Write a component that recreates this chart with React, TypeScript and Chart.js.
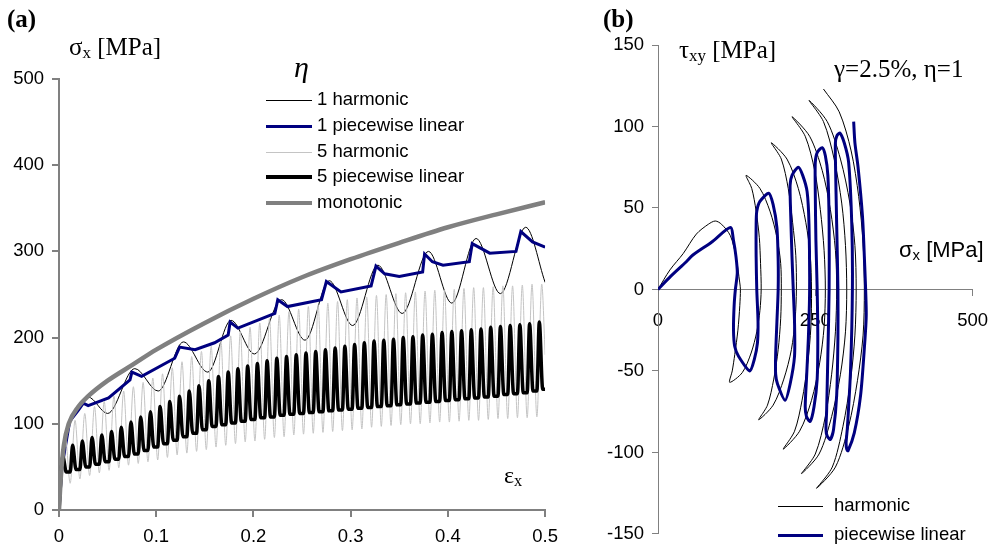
import React, { useEffect, useRef } from "react";
import { Chart, registerables } from "chart.js";
Chart.register(...registerables);

// ---------- (a) sigma_x vs eps_x ----------
const xTicksA = [0, 0.1, 0.2, 0.3, 0.4, 0.5];
const xLabelsA = ["0", "0.1", "0.2", "0.3", "0.4", "0.5"];
const yTicksA = [0, 100, 200, 300, 400, 500];
const yLabelsA = ["0", "100", "200", "300", "400", "500"];

const monoEps = [0, 0.002, 0.005, 0.01, 0.02, 0.03, 0.05, 0.075, 0.1, 0.15, 0.2, 0.25, 0.3, 0.35, 0.4, 0.45, 0.5];
const monoSig = [0, 40, 75, 100, 120, 132, 150, 168, 186, 217, 245, 270, 291, 310, 328, 343, 357];

const h1Eps = [0, 0.004, 0.01, 0.02, 0.03, 0.05, 0.078, 0.102, 0.128, 0.153, 0.177, 0.201, 0.229, 0.253, 0.278, 0.302, 0.328, 0.353, 0.38, 0.404, 0.429, 0.454, 0.48, 0.5];
const h1Sig = [0, 60, 98, 120, 131, 112, 164, 138, 195, 160, 220, 181, 244, 197, 266, 214, 284, 228, 300, 240, 315, 251, 328, 264];

const p1Eps = [0, 0.003, 0.011, 0.02, 0.025, 0.03, 0.051, 0.073, 0.075, 0.085, 0.119, 0.124, 0.14, 0.16, 0.174, 0.176, 0.184, 0.222, 0.225, 0.235, 0.27, 0.275, 0.29, 0.321, 0.326, 0.335, 0.35, 0.374, 0.376, 0.384, 0.395, 0.422, 0.425, 0.443, 0.47, 0.475, 0.487, 0.5];
const p1Sig = [0, 50, 103, 116, 124, 121, 130, 151, 160, 155, 176, 189, 186, 194, 203, 218, 211, 228, 244, 236, 244, 265, 253, 260, 283, 274, 271, 276, 297, 288, 284, 288, 309, 298, 300, 323, 311, 305];

// start of each of the 50 cycles of the eta=5 histories
const cycleEps = [0, 0.01, 0.02, 0.03, 0.04, 0.05, 0.06, 0.07, 0.08, 0.09, 0.1, 0.11, 0.12, 0.13, 0.14, 0.15, 0.16, 0.17, 0.18, 0.19, 0.2, 0.21, 0.22, 0.23, 0.24, 0.25, 0.26, 0.27, 0.28, 0.29, 0.3, 0.31, 0.32, 0.33, 0.34, 0.35, 0.36, 0.37, 0.38, 0.39, 0.4, 0.41, 0.42, 0.43, 0.44, 0.45, 0.46, 0.47, 0.48, 0.49];

const h5Peak = [85, 104, 112, 120, 126, 132, 138, 143, 148, 153, 158, 165, 172, 178, 184, 190, 196, 202, 207, 212, 217, 222, 226, 230, 233, 236, 238, 240, 242, 244, 246, 247, 249, 250, 251, 252, 253, 254, 255, 255, 256, 257, 258, 258, 259, 260, 260, 261, 262, 262];
const h5Trough = [31, 36, 40, 43, 46, 49, 52, 54, 56, 58, 61, 64, 66, 68, 70, 73, 75, 77, 79, 80, 82, 84, 85, 87, 88, 89, 90, 91, 92, 93, 94, 96, 97, 98, 99, 100, 100, 101, 102, 102, 103, 104, 104, 105, 106, 106, 107, 107, 108, 180];

const p5Peak = [62, 75, 80, 84, 87, 91, 96, 102, 108, 114, 120, 126, 132, 138, 144, 150, 155, 160, 164, 167, 170, 173, 176, 178, 180, 182, 184, 186, 188, 190, 192, 194, 196, 197, 198, 200, 201, 203, 204, 206, 207, 208, 209, 210, 212, 213, 214, 215, 216, 218];
const p5Trough = [44, 47, 50, 53, 56, 59, 62, 65, 69, 73, 77, 81, 85, 89, 93, 97, 99, 101, 103, 105, 107, 108, 110, 111, 112, 113, 114, 115, 116, 117, 118, 119, 120, 121, 122, 123, 124, 125, 126, 127, 128, 129, 130, 131, 132, 134, 135, 136, 138, 140];

// ---------- (b) tau_xy vs sigma_x ----------
const xTicksB = [0, 250, 500];
const xLabelsB = ["0", "250", "500"];
const yTicksB = [-150, -100, -50, 0, 50, 100, 150];
const yLabelsB = ["-150", "-100", "-50", "0", "50", "100", "150"];

const hbSig = [0, 19, 40, 61, 80, 91, 101, 115, 124, 130, 131,
  130, 127, 122, 118, 114,
  134, 148, 157, 162, 164,
  163, 161, 156, 149, 140,
  162, 178, 189, 195, 196,
  195, 191, 184, 174, 160,
  183, 200, 212, 218, 220,
  219, 214, 207, 196, 180,
  205, 223, 235, 242, 244,
  243, 238, 229, 217, 199,
  225, 244, 257, 264, 266,
  264, 258, 249, 234, 213,
  241, 261, 274, 282, 284,
  282, 276, 266, 250, 228,
  256, 276, 290, 298, 300,
  298, 292, 280, 263, 240,
  269, 290, 305, 313, 315,
  313, 306, 294, 277, 252,
  282, 303, 317, 326, 328,
  326, 319, 307, 288, 263];
const hbTau = [0, 12, 22, 34, 40, 42, 40, 33, 20, 4, 0,
  -10, -25, -40, -50, -57,
  -51, -39, -26, -13, 0,
  16, 32, 48, 62, 70,
  62, 48, 32, 16, 0,
  -18, -37, -55, -71, -80,
  -71, -55, -37, -18, 0,
  21, 41, 62, 80, 90,
  80, 62, 41, 21, 0,
  -23, -45, -68, -87, -98,
  -87, -68, -45, -23, 0,
  24, 49, 73, 94, 106,
  94, 73, 49, 24, 0,
  -26, -52, -78, -101, -113,
  -101, -78, -52, -26, 0,
  27, 53, 80, 103, 116,
  103, 80, 53, 27, 0,
  -28, -56, -84, -109, -122,
  -109, -84, -56, -28, 0,
  28, 57, 85, 109, 123];

const pbSig = [0, 20, 45, 55, 85, 115,
  120, 124, 126, 123, 121, 120, 122, 128, 146,
  153, 158, 159, 157, 156, 156, 157, 162, 176,
  183, 189, 191, 191, 189, 187, 187, 190, 202,
  210, 217, 217, 215, 213, 211, 210, 213, 223,
  230, 237, 240, 241, 239, 236, 234, 236, 242,
  248, 253, 254, 253, 251, 250, 250, 253, 261,
  266, 270, 272, 272, 270, 268, 267, 269, 274,
  279, 284, 286, 286, 284, 282, 282, 284, 289,
  296, 303, 308, 309, 306, 301, 299, 300, 302,
  312, 322, 328, 331, 328, 325, 318, 313, 311];
const pbTau = [0, 8, 17, 21, 29, 38,
  30, 20, 10, 0, -10, -25, -35, -41, -50,
  -43, -33, -20, 0, 20, 40, 48, 54, 59,
  52, 38, 18, 0, -20, -40, -52, -58, -68,
  -58, -41, -20, 0, 20, 45, 64, 70, 75,
  70, 60, 40, 0, -30, -55, -72, -78, -81,
  -72, -55, -30, 0, 30, 60, 78, 84, 87,
  82, 70, 40, 0, -40, -75, -86, -90, -92,
  -86, -65, -30, 0, 40, 80, 90, 94, 96,
  90, 78, 40, 0, -50, -85, -94, -98, -99,
  -88, -65, -36, -15, 20, 45, 75, 90, 103];

const pts = (xs: number[], ys: number[]) => xs.map((x, i) => ({ x, y: ys[i] }));

function buildH5() {
  const out = [{ x: 0, y: 0 }];
  cycleEps.forEach((c, k) => {
    out.push({ x: c + 0.0065, y: h5Peak[k] });
    out.push({ x: Math.min(c + 0.0115, 0.5), y: h5Trough[k] });
  });
  return out;
}
function buildP5() {
  // sharp rise to the peak, quick fall to the trough, trough held until the next rise
  const out = [{ x: 0, y: 0 }];
  cycleEps.forEach((c, k) => {
    out.push({ x: c + 0.004, y: p5Peak[k] });
    out.push({ x: c + 0.0075, y: p5Trough[k] });
    out.push({ x: Math.min(c + 0.0115, 0.5), y: p5Trough[k] });
  });
  return out;
}

const FONT = "'Liberation Sans', Arial, sans-serif";
const SERIF = "'Liberation Serif', 'Times New Roman', serif";

function axisCommon(ticks: number[], labels: string[], tickLen: number, lw: number) {
  return {
    type: "linear" as const,
    afterBuildTicks: (s: any) => { s.ticks = ticks.map((v) => ({ value: v })); },
    ticks: {
      autoSkip: false, maxRotation: 0,
      color: "#000",
      font: { family: FONT, size: 18.5 },
      callback: (_v: any, i: number) => labels[i],
    },
    grid: { drawOnChartArea: false, drawTicks: true, tickLength: tickLen, color: "#808080", lineWidth: lw },
    border: { display: true, color: "#808080", width: lw },
  };
}

export default function App() {
  const refA = useRef<HTMLCanvasElement>(null);
  const refB = useRef<HTMLCanvasElement>(null);

  useEffect(() => {
    const line = { showLine: true, pointRadius: 0, fill: false };
    const xA: any = axisCommon(xTicksA, xLabelsA, 7, 2);
    xA.min = 0; xA.max = 0.5; xA.ticks.padding = 9;
    xA.afterFit = (s: any) => { s.height = 43; };
    const yA: any = axisCommon(yTicksA, yLabelsA, 7, 2);
    yA.min = 0; yA.max = 500; yA.ticks.padding = 8;
    yA.afterFit = (s: any) => { s.width = 59; };

    const chartA = new Chart(refA.current!, {
      type: "line",
      data: {
        datasets: [
          { ...line, label: "1 harmonic", data: pts(h1Eps, h1Sig), borderColor: "#000", borderWidth: 1, cubicInterpolationMode: "monotone", order: 4 },
          { ...line, label: "1 piecewise linear", data: pts(p1Eps, p1Sig), borderColor: "#000080", borderWidth: 3, tension: 0, order: 3 },
          { ...line, label: "5 harmonic", data: buildH5(), borderColor: "#c4c4c4", borderWidth: 1, cubicInterpolationMode: "monotone", order: 2 },
          { ...line, label: "5 piecewise linear", data: buildP5(), borderColor: "#000", borderWidth: 3.5, cubicInterpolationMode: "monotone", order: 1 },
          { ...line, label: "monotonic", data: pts(monoEps, monoSig), borderColor: "#808080", borderWidth: 4.5, cubicInterpolationMode: "monotone", order: 0 },
        ] as any,
      },
      options: {
        animation: false, responsive: false,
        layout: { padding: { left: 0, top: 79, right: 0, bottom: 0 } },
        plugins: { legend: { display: false }, tooltip: { enabled: false } },
        scales: { x: xA, y: yA },
      },
    });

    const xB: any = axisCommon(xTicksB, xLabelsB, 6, 1);
    xB.min = 0; xB.max = 500; xB.position = { y: 0 }; xB.ticks.padding = 14;
    const yB: any = axisCommon(yTicksB, yLabelsB, 6, 1);
    yB.min = -150; yB.max = 150; yB.ticks.padding = 8;
    yB.afterFit = (s: any) => { s.width = 98; };

    const chartB = new Chart(refB.current!, {
      type: "line",
      data: {
        datasets: [
          { ...line, label: "harmonic", data: pts(hbSig, hbTau), borderColor: "#000", borderWidth: 1, tension: 0.3, order: 1 },
          { ...line, label: "piecewise linear", data: pts(pbSig, pbTau), borderColor: "#000080", borderWidth: 3, tension: 0.25, order: 0 },
        ] as any,
      },
      options: {
        animation: false, responsive: false,
        layout: { padding: { left: 0, top: 45, right: 0, bottom: 13 } },
        plugins: { legend: { display: false }, tooltip: { enabled: false } },
        scales: { x: xB, y: yB },
      },
    });

    return () => { chartA.destroy(); chartB.destroy(); };
  }, []);

  const txt = (left: number, top: number, fs: number, content: React.ReactNode, extra: React.CSSProperties = {}) => (
    <div style={{ position: "absolute", left, top, fontSize: fs, lineHeight: `${fs}px`, whiteSpace: "nowrap", color: "#000", ...extra }}>{content}</div>
  );
  const sub = (s: string) => <span style={{ fontSize: "68%", verticalAlign: "-0.2em" }}>{s}</span>;
  const legLine = (left: number, width: number, cy: number, h: number, color: string) => (
    <div style={{ position: "absolute", left, top: cy - h / 2, width, height: h, background: color }} />
  );

  const legA = [
    { t: "1 harmonic", c: "#000", h: 1, y: 100 },
    { t: "1 piecewise linear", c: "#000080", h: 3, y: 126 },
    { t: "5 harmonic", c: "#c4c4c4", h: 1, y: 152 },
    { t: "5 piecewise linear", c: "#000", h: 4, y: 177 },
    { t: "monotonic", c: "#808080", h: 4.5, y: 203 },
  ];
  const legB = [
    { t: "harmonic", c: "#000", h: 1, y: 506 },
    { t: "piecewise linear", c: "#000080", h: 3, y: 535 },
  ];

  return (
    <div style={{ position: "fixed", left: 0, top: 0, width: 993, height: 553, background: "#fff", overflow: "hidden" }}>
      <canvas ref={refA} width={567} height={553} style={{ position: "absolute", left: 0, top: 0, width: 567, height: 553 }} />
      <canvas ref={refB} width={442} height={553} style={{ position: "absolute", left: 560, top: 0, width: 442, height: 553 }} />
      {txt(7, 6, 25, "(a)", { fontFamily: SERIF, fontWeight: "bold" })}
      {txt(69, 34, 25, <>σ{sub("x")} [MPa]</>, { fontFamily: SERIF })}
      {txt(294, 52, 30, "η", { fontFamily: SERIF, fontStyle: "italic" })}
      {legA.map((l) => (
        <React.Fragment key={l.t}>
          {legLine(266, 46, l.y, l.h, l.c)}
          {txt(317, l.y - 10, 18.5, l.t, { fontFamily: FONT })}
        </React.Fragment>
      ))}
      {txt(504, 463, 24, <>ε{sub("x")}</>, { fontFamily: SERIF })}
      {txt(603, 6, 25, "(b)", { fontFamily: SERIF, fontWeight: "bold" })}
      {txt(679, 37, 25, <>τ{sub("xy")} [MPa]</>, { fontFamily: SERIF })}
      {txt(834, 56, 25, "γ=2.5%, η=1", { fontFamily: SERIF })}
      {txt(899, 239, 22, <>σ{sub("x")} [MPa]</>, { fontFamily: FONT })}
      {legB.map((l) => (
        <React.Fragment key={l.t}>
          {legLine(778, 45, l.y, l.h, l.c)}
          {txt(834, l.y - 10, 18.5, l.t, { fontFamily: FONT })}
        </React.Fragment>
      ))}
    </div>
  );
}
